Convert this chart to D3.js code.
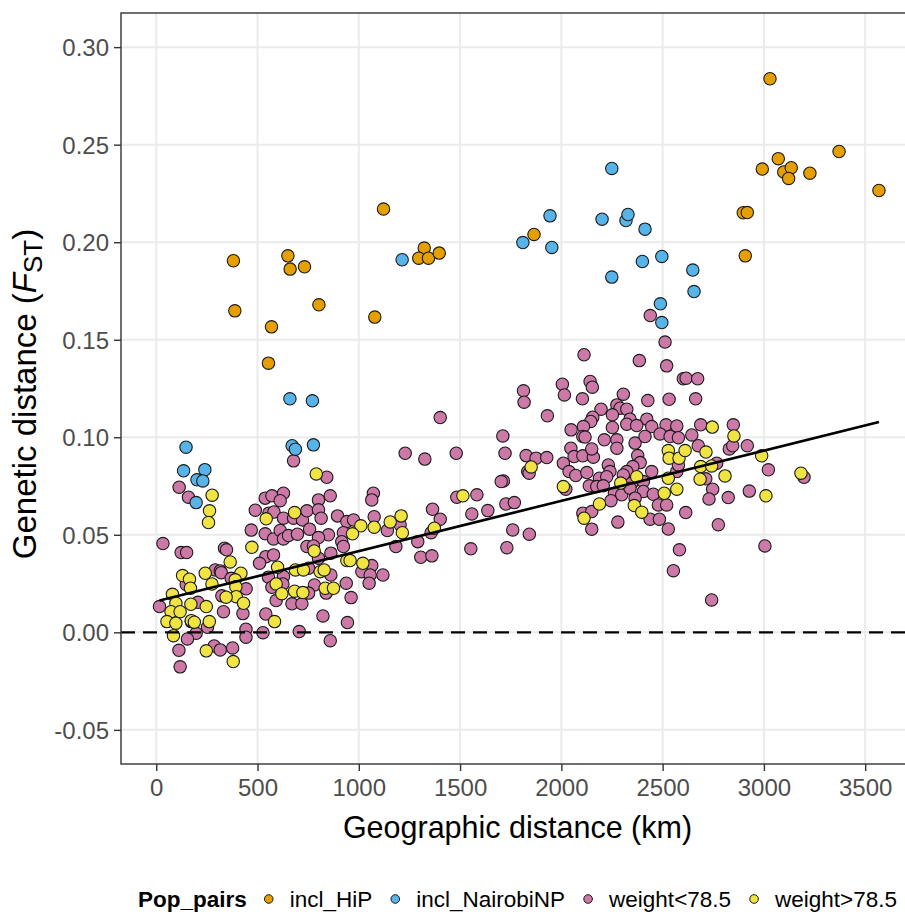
<!DOCTYPE html>
<html>
<head>
<meta charset="utf-8">
<script src="https://cdn.jsdelivr.net/npm/d3@7"></script>
<style>
  body { margin: 0; background: #fff; }
  text { font-family: "Liberation Sans", Arial, sans-serif; }
</style>
</head>
<body>
<svg id="chart"></svg>
<script>
// pairwise FST vs geographic distance, one array per Pop_pairs group: [km, FST]
var groups = ["incl_HiP", "incl_NairobiNP", "weight<78.5", "weight>78.5"];
var colors = ["#E69F00", "#56B4E9", "#CC79A7", "#F0E442"];

var inclHiP = [[1122,0.217],[381,0.1905],[650,0.193],[661,0.1862],[732,0.1874],[388,0.1648],[803,0.1679],
  [569,0.1566],[1079,0.1616],[554,0.138],[1323,0.197],[1296,0.1918],[1344,0.1918],[1397,0.1944],[3030,0.2838],
  [3371,0.2465],[3071,0.2428],[2992,0.2375],[3098,0.236],[3135,0.2382],[3122,0.2327],[3227,0.2354],[3568,0.2265],
  [2898,0.2151],[2918,0.2152],[2908,0.193],[1865,0.204]];

var inclNairobi = [[1810,0.1998],[1944,0.2135],[1953,0.1973],[2249,0.2378],[2201,0.2118],[2319,0.2111],[2329,0.2142],
  [2413,0.2067],[2400,0.1901],[2496,0.1927],[2249,0.1821],[2649,0.1857],[2655,0.1747],[2489,0.1684],[2496,0.1588],
  [1214,0.191],[660,0.1197],[771,0.1187],[671,0.0957],[687,0.0939],[776,0.0961],[147,0.0949],[135,0.0828],
  [240,0.0834],[201,0.0782],[230,0.0776],[197,0.0665]];

var weightLow = [[113,0.0744],[159,0.0693],[33,0.0455],[123,0.0409],[150,0.0409],[337,0.0431],[347,0.0423],[291,0.032],
  [316,0.0315],[321,0.0306],[370,0.0277],[148,0.0245],[324,0.0187],[444,0.0223],[206,0.0154],[16,0.0132],[332,0.0106],
  [428,0.0096],[541,0.0094],[173,0.0055],[253,0.0026],[197,-0.0005],[443,0.0016],[443,-0.0025],[527,-0.0002],
  [706,0.0004],[154,-0.0034],[112,-0.0092],[286,-0.007],[316,-0.009],[377,-0.008],[118,-0.0177],[489,0.0626],
  [469,0.0524],[538,0.0688],[571,0.07],[628,0.0713],[612,0.0675],[556,0.0611],[581,0.0617],[628,0.0585],[678,0.0585],
  [722,0.0576],[744,0.0623],[538,0.0505],[579,0.0479],[612,0.0522],[628,0.0479],[653,0.0496],[697,0.0503],[744,0.044],
  [541,0.0388],[579,0.0397],[510,0.0354],[554,0.0283],[628,0.0286],[625,0.0248],[571,0.0231],[592,0.0163],[670,0.0146],
  [719,0.0146],[678,0.0879],
  [1229,0.0918],[1326,0.0888],[1481,0.0918],[842,0.0795],[859,0.07],[801,0.0679],[1072,0.0713],[1064,0.0679],
  [801,0.0628],[814,0.0585],[895,0.0597],[941,0.0568],[974,0.0576],[1076,0.0593],[757,0.0529],[850,0.05],[801,0.0486],
  [924,0.0511],[916,0.0465],[924,0.044],[776,0.0443],[862,0.0406],[801,0.038],[752,0.0329],[1141,0.0522],[1204,0.0551],
  [1364,0.0631],[1402,0.058],[1484,0.0693],[1583,0.0705],[1558,0.0607],[1357,0.0511],[1291,0.0465],[1183,0.044],
  [1306,0.0385],[1361,0.0392],[1553,0.0428],[1064,0.0342],[1015,0.0311],[1056,0.0294],[1119,0.0294],[1051,0.0252],
  [862,0.0294],[938,0.0252],[781,0.0243],[752,0.0201],[839,0.0201],[962,0.0178],[823,0.0084],[944,0.005],[859,-0.0043],
  [1402,0.1101],
  [2512,0.1488],[2112,0.1423],[2385,0.1393],[2520,0.1366],[2602,0.13],[2616,0.1303],[2673,0.13],[1813,0.1238],
  [1816,0.118],[2005,0.1272],[2015,0.1217],[2142,0.1286],[2153,0.1257],[2104,0.1197],[2306,0.1221],[2427,0.1188],
  [2532,0.1195],[2663,0.1197],[1931,0.111],[2196,0.1144],[2274,0.1166],[2290,0.1149],[2323,0.1144],[2252,0.1115],
  [2155,0.1103],[2145,0.1081],[2339,0.1093],[2422,0.1093],[2323,0.1067],[2372,0.106],[2446,0.1055],[2517,0.1064],
  [2570,0.1058],[2688,0.1064],[2849,0.1064],[2109,0.1055],[2048,0.1038],[2252,0.105],[1711,0.1007],[1722,0.0918],
  [1826,0.0906],[1875,0.0893],[1928,0.0896],[2047,0.0944],[2106,0.1004],[2117,0.1001],[2212,0.0987],[2274,0.0987],
  [2274,0.0944],[2364,0.097],[2413,0.1004],[2487,0.1017],[2537,0.1004],[2578,0.0998],[2644,0.1012],[2676,0.0957],
  [2829,0.094],[2846,0.0956],[2918,0.0957],[2063,0.0901],[2106,0.0905],[2158,0.0898],[2150,0.094],[2377,0.0906],
  [2389,0.087],[2353,0.085],[2323,0.0824],[2010,0.0867],[2038,0.0824],[2071,0.0804],[2126,0.0819],[2232,0.0858],
  [2240,0.0824],[2188,0.079],[2224,0.0798],[2306,0.0807],[2348,0.0765],[2405,0.0773],[2446,0.0824],[2570,0.0824],
  [2578,0.0858],[2138,0.0751],[2175,0.0747],[2207,0.0751],[2262,0.0713],[2298,0.0705],[2339,0.0739],[2405,0.0722],
  [2454,0.0708],[2364,0.0688],[2245,0.0675],[2713,0.0787],[2767,0.0867],[2747,0.0734],[2729,0.0684],[2824,0.0691],
  [2928,0.0724],[3022,0.0833],[3198,0.0795],[2479,0.0653],[2520,0.0653],[2614,0.0614],[2438,0.058],[2484,0.058],
  [2528,0.053],[2279,0.0565],[2150,0.0529],[2106,0.0611],[2775,0.0552],[2583,0.0423],[2553,0.0316],[2742,0.0166],
  [3005,0.0443],[1714,0.0776],[1703,0.0773],[1834,0.0824],[1841,0.0816],[1637,0.0624],[1726,0.0658],[1768,0.0665],
  [1760,0.0525],[1842,0.0503],[1731,0.0434],[2022,0.0734],[2150,0.0619],[2439,0.1624]];

var weightHigh = [[276,0.0703],[263,0.0623],[258,0.0563],[130,0.0291],[164,0.0272],[169,0.0226],[242,0.0303],[275,0.0248],
  [365,0.0361],[418,0.0303],[390,0.0269],[393,0.0234],[80,0.0195],[97,0.0149],[171,0.0144],[247,0.0132],[395,0.0183],
  [345,0.018],[431,0.0149],[73,0.0106],[118,0.0106],[53,0.0055],[97,0.0047],[173,0.006],[188,0.0052],[262,0.0055],
  [85,-0.0017],[472,0.0436],[247,-0.0095],[380,-0.015],[584,0.0055],[599,0.0334],[592,0.0248],[620,0.0198],[683,0.0211],
  [683,0.0614],[543,0.0582],[687,0.032],[727,0.032],[724,0.0204],[790,0.0812],[1010,0.0546],[969,0.0505],[1076,0.0539],
  [1155,0.0566],[1209,0.0597],[1215,0.0511],[1373,0.0534],[1514,0.07],[780,0.0417],[941,0.0368],[957,0.0368],
  [1020,0.0354],[809,0.0311],[829,0.032],[834,0.0226],[875,0.0226],[1851,0.0848],[2010,0.0747],[2188,0.0658],
  [2112,0.0585],[2293,0.0765],[2360,0.065],[2397,0.0616],[2372,0.0798],[2508,0.0713],[2528,0.0932],[2532,0.0893],
  [2581,0.0893],[2611,0.0932],[2528,0.079],[2570,0.0734],[2745,0.1052],[2852,0.1007],[2714,0.0924],[2688,0.085],
  [2742,0.0853],[2685,0.0785],[2808,0.0802],[2989,0.0905],[3010,0.07],[3183,0.0816]];

// fitted lm line
var fitX = [16, 3568];
var fitY = [0.0163, 0.1078];

var xTicks = [0, 500, 1000, 1500, 2000, 2500, 3000, 3500];
var yTicks = [-0.05, 0, 0.05, 0.10, 0.15, 0.20, 0.25, 0.30];

var W = 905, H = 916;
var pL = 121, pT = 13, pR = 914, pB = 764;

var svg = d3.select("#chart").attr("width", W).attr("height", H)
  .style("display", "block").style("overflow", "hidden");

var x = d3.scaleLinear().domain([-174, 3741]).range([pL, pR]);
var y = d3.scaleLinear().domain([-0.0675, 0.3175]).range([pB, pT]);

// grid
svg.append("g").selectAll("line").data(xTicks).enter().append("line")
  .attr("x1", function(d) { return x(d); }).attr("x2", function(d) { return x(d); })
  .attr("y1", pT).attr("y2", pB)
  .attr("stroke", "#EBEBEB").attr("stroke-width", 2);
svg.append("g").selectAll("line").data(yTicks).enter().append("line")
  .attr("y1", function(d) { return y(d); }).attr("y2", function(d) { return y(d); })
  .attr("x1", pL).attr("x2", pR)
  .attr("stroke", "#EBEBEB").attr("stroke-width", 2);

// points, drawn group by group
var layers = [weightLow, weightHigh, inclNairobi, inclHiP];
var layerColor = [colors[2], colors[3], colors[1], colors[0]];
layers.forEach(function(arr, i) {
  svg.append("g").selectAll("circle").data(arr).enter().append("circle")
    .attr("cx", function(d) { return x(d[0]); })
    .attr("cy", function(d) { return y(d[1]); })
    .attr("r", 6.2)
    .attr("fill", layerColor[i])
    .attr("stroke", "#1a1a1a")
    .attr("stroke-width", 1.1);
});

// zero line
svg.append("line")
  .attr("x1", pL).attr("x2", pR)
  .attr("y1", y(0)).attr("y2", y(0))
  .attr("stroke", "#000").attr("stroke-width", 2.2)
  .attr("stroke-dasharray", "14,8");

// regression line
svg.append("line")
  .attr("x1", x(fitX[0])).attr("x2", x(fitX[1]))
  .attr("y1", y(fitY[0])).attr("y2", y(fitY[1]))
  .attr("stroke", "#000").attr("stroke-width", 2.6);

// panel border
svg.append("rect")
  .attr("x", pL).attr("y", pT)
  .attr("width", pR - pL).attr("height", pB - pT)
  .attr("fill", "none").attr("stroke", "#333").attr("stroke-width", 1.4);

// axes
var yAxis = svg.append("g")
  .attr("transform", "translate(" + pL + ",0)")
  .call(d3.axisLeft(y).tickValues(yTicks).tickSize(7).tickPadding(5)
    .tickFormat(function(d) { return d.toFixed(2); }));
var xAxis = svg.append("g")
  .attr("transform", "translate(0," + pB + ")")
  .call(d3.axisBottom(x).tickValues(xTicks).tickSize(7).tickPadding(8)
    .tickFormat(function(d) { return d; }));

[xAxis, yAxis].forEach(function(a) {
  a.select(".domain").remove();
  a.selectAll("line").attr("stroke", "#333").attr("stroke-width", 1.4);
  a.selectAll("text").attr("fill", "#4D4D4D").attr("font-size", 24)
    .style("font-family", "'Liberation Sans', Arial, sans-serif");
});
yAxis.selectAll("text").attr("dy", "0.36em");

// axis titles
svg.append("text")
  .attr("x", (pL + pR) / 2).attr("y", 838)
  .attr("text-anchor", "middle").attr("font-size", 30.5).attr("fill", "#000")
  .text("Geographic distance (km)");

var yt = svg.append("text")
  .attr("transform", "translate(36,394) rotate(-90)")
  .attr("text-anchor", "middle").attr("font-size", 33).attr("fill", "#000");
yt.append("tspan").text("Genetic distance (");
yt.append("tspan").attr("font-style", "italic").text("F");
yt.append("tspan").attr("font-size", 26).attr("dy", 6).text("ST");
yt.append("tspan").attr("dy", -6).text(")");

// legend
var leg = svg.append("g");
var legTitle = leg.append("text").attr("font-size", 22.5).attr("font-weight", "bold")
  .attr("fill", "#000").text("Pop_pairs");
var cx = legTitle.node().getComputedTextLength() + 22;
groups.forEach(function(g, i) {
  leg.append("circle").attr("cx", cx).attr("cy", -8).attr("r", 4.3)
    .attr("fill", colors[i]).attr("stroke", "#1a1a1a").attr("stroke-width", 1);
  var t = leg.append("text").attr("x", cx + 21).attr("font-size", 22.5).attr("fill", "#000").text(g);
  cx += 21 + t.node().getComputedTextLength() + 23;
});
var legW = cx - 23;
leg.attr("transform", "translate(" + ((pL + pR) / 2 - legW / 2) + ",907)");
</script>
</body>
</html>
